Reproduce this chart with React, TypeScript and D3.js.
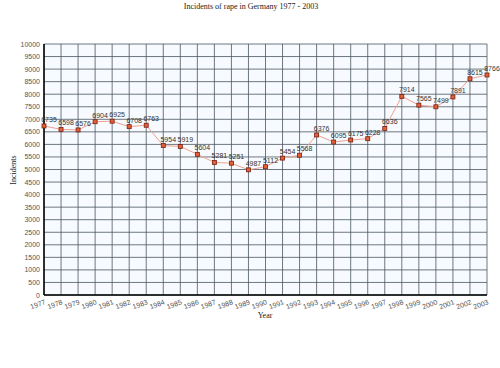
import React from "react";
import * as d3 from "d3";

const width = 500;
const height = 368;
const margin = { top: 44, left: 44, bottom: 73, right: 13 };
const iwidth = width - margin.left - margin.right;
const iheight = height - margin.top - margin.bottom;

const years = [
  1977, 1978, 1979, 1980, 1981, 1982, 1983, 1984, 1985, 1986, 1987, 1988, 1989,
  1990, 1991, 1992, 1993, 1994, 1995, 1996, 1997, 1998, 1999, 2000, 2001, 2002, 2003,
];
const incidents = [
  6735, 6598, 6576, 6904, 6925, 6708, 6763, 5954, 5919, 5604, 5281, 5251, 4987,
  5112, 5454, 5568, 6376, 6095, 6175, 6228, 6636, 7914, 7565, 7499, 7891, 8615, 8766,
];
const yTicks = d3.range(0, 10001, 500);

const title = "Incidents of rape in Germany 1977 - 2003";
const labelFont = "'Liberation Sans', Arial, sans-serif";

export default function App() {
  const x = d3.scaleLinear().domain([1977, 2003]).range([0, iwidth]);
  const y = d3.scaleLinear().domain([0, 10000]).range([iheight, 0]);
  const data = years.map((yr, i) => ({ yr, v: incidents[i] }));
  const line = d3
    .line<{ yr: number; v: number }>()
    .x((d) => x(d.yr))
    .y((d) => y(d.v));

  return (
    <svg
      width={width}
      height={height}
      style={{ position: "absolute", left: 0, top: 0, background: "#fff" }}
    >
      <text
        x={width / 2 + 1}
        y={9}
        textAnchor="middle"
        fontFamily="'Liberation Serif', serif"
        fontSize={8}
        fill="#222"
      >
        {title}
      </text>
      <g transform={`translate(${margin.left},${margin.top})`}>
        <rect width={iwidth} height={iheight} fill="#f7fbff" />
        {yTicks.map((t) => (
          <line
            key={"h" + t}
            x1={0}
            x2={iwidth}
            y1={y(t)}
            y2={y(t)}
            stroke="#4a5560"
            strokeWidth={0.8}
          />
        ))}
        {years.map((yr) => (
          <line
            key={"v" + yr}
            x1={x(yr)}
            x2={x(yr)}
            y1={0}
            y2={iheight}
            stroke="#4a5560"
            strokeWidth={0.8}
          />
        ))}
        <line x1={0} x2={0} y1={0} y2={iheight} stroke="#000" strokeWidth={1.5} />
        <line x1={0} x2={iwidth} y1={iheight} y2={iheight} stroke="#000" strokeWidth={1.5} />
        {yTicks.map((t) => (
          <text
            key={"yl" + t}
            x={-4}
            y={y(t) + 2.5}
            textAnchor="end"
            fontFamily={labelFont}
            fontSize={7}
            fill="#555"
          >
            {t}
          </text>
        ))}
        {years.map((yr) => (
          <text
            key={"xl" + yr}
            transform={`translate(${x(yr) + 2},${iheight + 9}) rotate(-20)`}
            textAnchor="end"
            fontFamily={labelFont}
            fontSize={7}
            fill="#555"
          >
            {yr}
          </text>
        ))}
        <path d={line(data) || ""} fill="none" stroke="#f0a090" strokeWidth={1} />
        {data.map((d) => (
          <rect
            key={"m" + d.yr}
            x={x(d.yr) - 2}
            y={y(d.v) - 2}
            width={4}
            height={4}
            fill="#e0603a"
            stroke="#7a2010"
            strokeWidth={0.8}
          />
        ))}
        {data.map((d) => (
          <text
            key={"dl" + d.yr}
            x={x(d.yr) + 5}
            y={y(d.v) - 4}
            textAnchor="middle"
            fontFamily={labelFont}
            fontSize={7}
            fill="#333"
          >
            {d.v}
          </text>
        ))}
      </g>
      <text
        x={265}
        y={318}
        textAnchor="middle"
        fontFamily="'Liberation Serif', serif"
        fontSize={8}
        fill="#222"
      >
        Year
      </text>
      <text
        transform={`translate(16,170) rotate(-90)`}
        textAnchor="middle"
        fontFamily="'Liberation Serif', serif"
        fontSize={8}
        fill="#222"
      >
        Incidents
      </text>
    </svg>
  );
}
